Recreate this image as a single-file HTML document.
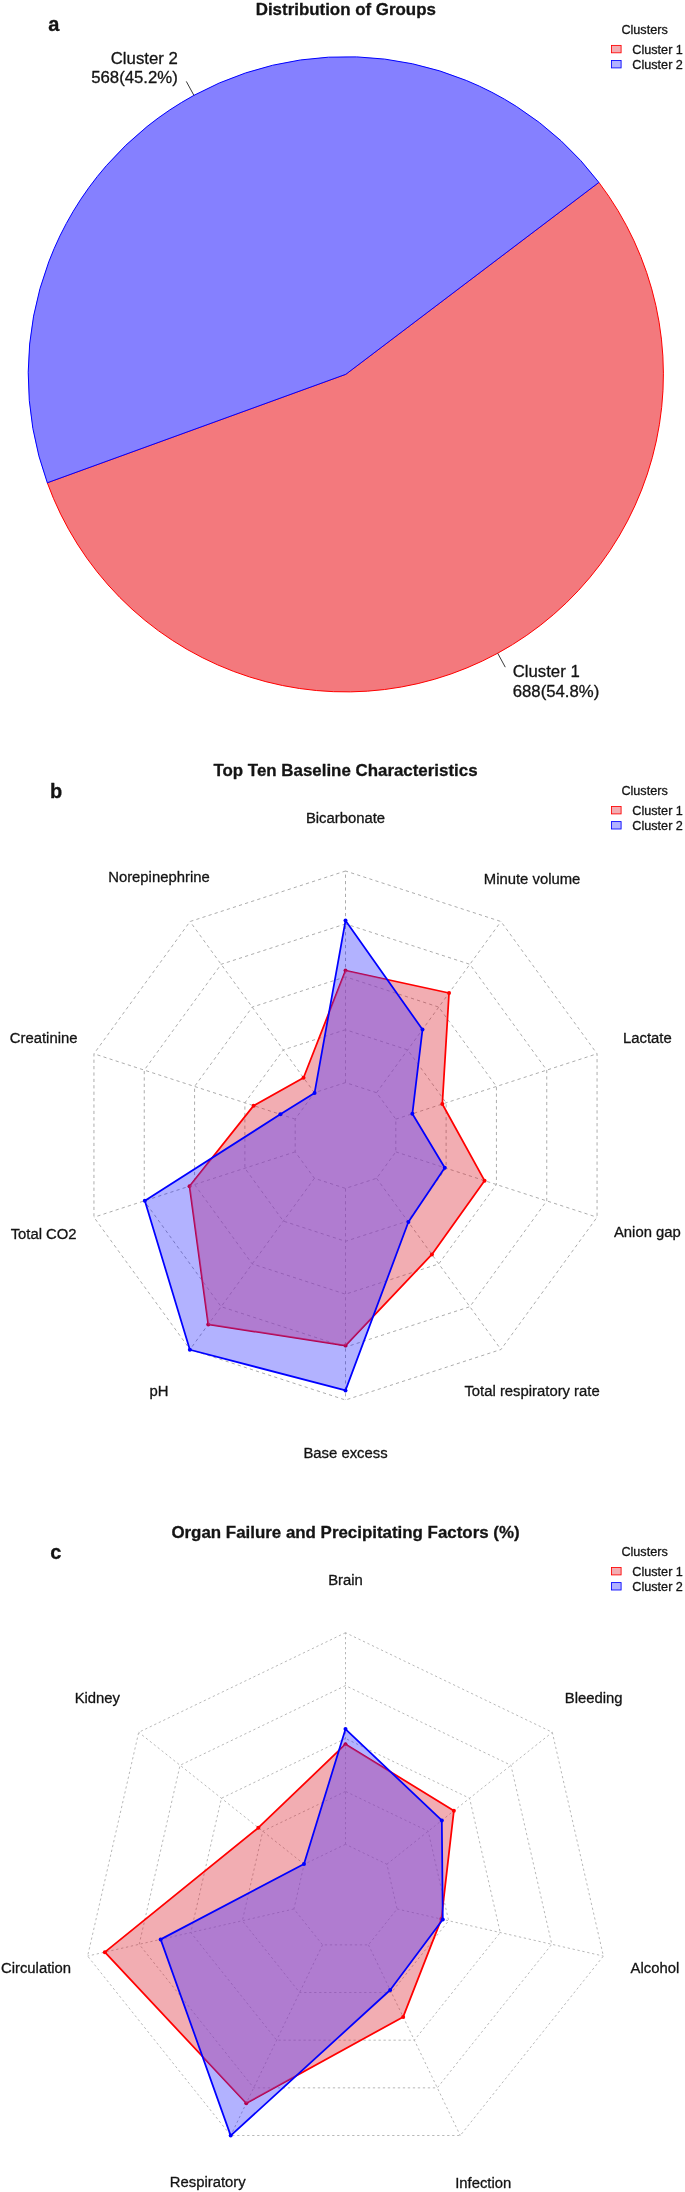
<!DOCTYPE html>
<html><head><meta charset="utf-8"><title>Figure</title>
<style>
html,body{margin:0;padding:0;background:#fff;}
body{width:685px;height:2192px;overflow:hidden;}
svg{display:block;font-family:"Liberation Sans", sans-serif;will-change:transform;}
text{stroke:#141414;stroke-width:0.3px;stroke-linejoin:round;}
</style></head><body>
<svg width="685" height="2192" viewBox="0 0 685 2192">
<rect width="685" height="2192" fill="#ffffff"/>
<path d="M345.8,374.3 L47.30,482.77 A317.6,317.6 0 1 0 598.88,182.41 Z" fill="#f3797d" stroke="#ff0000" stroke-width="1.0" stroke-linejoin="round"/>
<path d="M345.8,374.3 L598.88,182.41 A317.6,317.6 0 0 0 47.30,482.77 Z" fill="#8580ff" stroke="#0000ff" stroke-width="1.0" stroke-linejoin="round"/>
<line x1="193.91" y1="95.37" x2="186.32" y2="81.43" stroke="#222" stroke-width="0.9"/>
<line x1="497.69" y1="653.23" x2="505.28" y2="667.17" stroke="#222" stroke-width="0.9"/>
<text x="345.80" y="14.60" font-size="16.9" text-anchor="middle" font-weight="bold" fill="#141414">Distribution of Groups</text>
<text x="48.30" y="31.00" font-size="20" text-anchor="start" font-weight="bold" fill="#141414">a</text>
<text x="177.80" y="63.70" font-size="16.75" text-anchor="end" font-weight="normal" fill="#141414">Cluster 2</text>
<text x="177.80" y="83.40" font-size="16.75" text-anchor="end" font-weight="normal" fill="#141414">568(45.2%)</text>
<text x="512.70" y="677.10" font-size="16.75" text-anchor="start" font-weight="normal" fill="#141414">Cluster 1</text>
<text x="512.70" y="697.10" font-size="16.75" text-anchor="start" font-weight="normal" fill="#141414">688(54.8%)</text>
<text x="644.60" y="33.90" font-size="12.65" text-anchor="middle" font-weight="normal" fill="#141414">Clusters</text>
<text x="632.30" y="53.90" font-size="12.65" text-anchor="start" font-weight="normal" fill="#141414">Cluster 1</text>
<text x="632.30" y="68.80" font-size="12.65" text-anchor="start" font-weight="normal" fill="#141414">Cluster 2</text>
<rect x="611.5" y="45.40" width="9.6" height="7.4" fill="rgba(219,27,41,0.36)" stroke="#ff0000" stroke-width="0.85"/>
<rect x="611.5" y="60.50" width="9.6" height="7.4" fill="rgba(0,0,255,0.30)" stroke="#0000ff" stroke-width="0.85"/>
<polygon points="345.50,1082.60 314.41,1092.70 295.19,1119.15 295.19,1151.85 314.41,1178.30 345.50,1188.40 376.59,1178.30 395.81,1151.85 395.81,1119.15 376.59,1092.70" fill="none" stroke="#a8a8a8" stroke-width="0.95" stroke-dasharray="3.2 3.2"/>
<polygon points="345.50,1029.70 283.31,1049.91 244.88,1102.81 244.88,1168.19 283.31,1221.09 345.50,1241.30 407.69,1221.09 446.12,1168.19 446.12,1102.81 407.69,1049.91" fill="none" stroke="#a8a8a8" stroke-width="0.95" stroke-dasharray="3.2 3.2"/>
<polygon points="345.50,976.80 252.22,1007.11 194.57,1086.46 194.57,1184.54 252.22,1263.89 345.50,1294.20 438.78,1263.89 496.43,1184.54 496.43,1086.46 438.78,1007.11" fill="none" stroke="#a8a8a8" stroke-width="0.95" stroke-dasharray="3.2 3.2"/>
<polygon points="345.50,923.90 221.12,964.31 144.26,1070.11 144.26,1200.89 221.12,1306.69 345.50,1347.10 469.88,1306.69 546.74,1200.89 546.74,1070.11 469.88,964.31" fill="none" stroke="#a8a8a8" stroke-width="0.95" stroke-dasharray="3.2 3.2"/>
<polygon points="345.50,871.00 190.03,921.52 93.95,1053.77 93.95,1217.23 190.03,1349.48 345.50,1400.00 500.97,1349.48 597.05,1217.23 597.05,1053.77 500.97,921.52" fill="none" stroke="#a8a8a8" stroke-width="0.95" stroke-dasharray="3.2 3.2"/>
<line x1="345.50" y1="1082.60" x2="345.50" y2="871.00" stroke="#a8a8a8" stroke-width="0.95" stroke-dasharray="3.2 3.2"/>
<line x1="314.41" y1="1092.70" x2="190.03" y2="921.52" stroke="#a8a8a8" stroke-width="0.95" stroke-dasharray="3.2 3.2"/>
<line x1="295.19" y1="1119.15" x2="93.95" y2="1053.77" stroke="#a8a8a8" stroke-width="0.95" stroke-dasharray="3.2 3.2"/>
<line x1="295.19" y1="1151.85" x2="93.95" y2="1217.23" stroke="#a8a8a8" stroke-width="0.95" stroke-dasharray="3.2 3.2"/>
<line x1="314.41" y1="1178.30" x2="190.03" y2="1349.48" stroke="#a8a8a8" stroke-width="0.95" stroke-dasharray="3.2 3.2"/>
<line x1="345.50" y1="1188.40" x2="345.50" y2="1400.00" stroke="#a8a8a8" stroke-width="0.95" stroke-dasharray="3.2 3.2"/>
<line x1="376.59" y1="1178.30" x2="500.97" y2="1349.48" stroke="#a8a8a8" stroke-width="0.95" stroke-dasharray="3.2 3.2"/>
<line x1="395.81" y1="1151.85" x2="597.05" y2="1217.23" stroke="#a8a8a8" stroke-width="0.95" stroke-dasharray="3.2 3.2"/>
<line x1="395.81" y1="1119.15" x2="597.05" y2="1053.77" stroke="#a8a8a8" stroke-width="0.95" stroke-dasharray="3.2 3.2"/>
<line x1="376.59" y1="1092.70" x2="500.97" y2="921.52" stroke="#a8a8a8" stroke-width="0.95" stroke-dasharray="3.2 3.2"/>
<clipPath id="cp1"><polygon points="345.50,970.50 303.53,1077.74 253.63,1105.65 189.53,1186.18 208.25,1324.41 345.50,1345.60 431.90,1254.43 484.54,1180.68 442.32,1104.04 449.04,992.99"/></clipPath>
<polygon points="345.50,970.50 303.53,1077.74 253.63,1105.65 189.53,1186.18 208.25,1324.41 345.50,1345.60 431.90,1254.43 484.54,1180.68 442.32,1104.04 449.04,992.99" fill="rgba(219,27,41,0.36)" stroke="#ff0000" stroke-width="1.75" stroke-linejoin="round"/>
<circle cx="345.50" cy="970.50" r="2.0" fill="#ff0000"/>
<circle cx="303.53" cy="1077.74" r="2.0" fill="#ff0000"/>
<circle cx="253.63" cy="1105.65" r="2.0" fill="#ff0000"/>
<circle cx="189.53" cy="1186.18" r="2.0" fill="#ff0000"/>
<circle cx="208.25" cy="1324.41" r="2.0" fill="#ff0000"/>
<circle cx="345.50" cy="1345.60" r="2.0" fill="#ff0000"/>
<circle cx="431.90" cy="1254.43" r="2.0" fill="#ff0000"/>
<circle cx="484.54" cy="1180.68" r="2.0" fill="#ff0000"/>
<circle cx="442.32" cy="1104.04" r="2.0" fill="#ff0000"/>
<circle cx="449.04" cy="992.99" r="2.0" fill="#ff0000"/>
<polygon points="345.50,920.60 314.58,1092.95 280.35,1114.33 144.83,1200.70 189.85,1349.73 345.50,1390.40 408.39,1222.06 444.79,1167.76 412.36,1113.78 422.50,1029.52" fill="rgba(0,0,255,0.30)"/>
<polygon points="345.50,920.60 314.58,1092.95 280.35,1114.33 144.83,1200.70 189.85,1349.73 345.50,1390.40 408.39,1222.06 444.79,1167.76 412.36,1113.78 422.50,1029.52" fill="rgba(200,137,233,0.25)" clip-path="url(#cp1)"/>
<polygon points="345.50,920.60 314.58,1092.95 280.35,1114.33 144.83,1200.70 189.85,1349.73 345.50,1390.40 408.39,1222.06 444.79,1167.76 412.36,1113.78 422.50,1029.52" fill="none" stroke="#0000ff" stroke-width="1.75" stroke-linejoin="round"/>
<circle cx="345.50" cy="920.60" r="2.0" fill="#0000ff"/>
<circle cx="314.58" cy="1092.95" r="2.0" fill="#0000ff"/>
<circle cx="280.35" cy="1114.33" r="2.0" fill="#0000ff"/>
<circle cx="144.83" cy="1200.70" r="2.0" fill="#0000ff"/>
<circle cx="189.85" cy="1349.73" r="2.0" fill="#0000ff"/>
<circle cx="345.50" cy="1390.40" r="2.0" fill="#0000ff"/>
<circle cx="408.39" cy="1222.06" r="2.0" fill="#0000ff"/>
<circle cx="444.79" cy="1167.76" r="2.0" fill="#0000ff"/>
<circle cx="412.36" cy="1113.78" r="2.0" fill="#0000ff"/>
<circle cx="422.50" cy="1029.52" r="2.0" fill="#0000ff"/>
<text x="345.50" y="823.42" font-size="14.85" text-anchor="middle" font-weight="normal" fill="#141414">Bicarbonate</text>
<text x="158.94" y="882.48" font-size="14.85" text-anchor="middle" font-weight="normal" fill="#141414">Norepinephrine</text>
<text x="43.63" y="1042.73" font-size="14.85" text-anchor="middle" font-weight="normal" fill="#141414">Creatinine</text>
<text x="43.63" y="1238.90" font-size="14.85" text-anchor="middle" font-weight="normal" fill="#141414">Total CO2</text>
<text x="158.94" y="1396.04" font-size="14.85" text-anchor="middle" font-weight="normal" fill="#141414">pH</text>
<text x="345.50" y="1458.22" font-size="14.85" text-anchor="middle" font-weight="normal" fill="#141414">Base excess</text>
<text x="532.06" y="1396.04" font-size="14.85" text-anchor="middle" font-weight="normal" fill="#141414">Total respiratory rate</text>
<text x="647.37" y="1237.34" font-size="14.85" text-anchor="middle" font-weight="normal" fill="#141414">Anion gap</text>
<text x="647.37" y="1042.73" font-size="14.85" text-anchor="middle" font-weight="normal" fill="#141414">Lactate</text>
<text x="532.06" y="884.03" font-size="14.85" text-anchor="middle" font-weight="normal" fill="#141414">Minute volume</text>
<text x="345.50" y="776.00" font-size="16.9" text-anchor="middle" font-weight="bold" fill="#141414">Top Ten Baseline Characteristics</text>
<text x="49.90" y="798.00" font-size="20" text-anchor="start" font-weight="bold" fill="#141414">b</text>
<text x="644.60" y="795.00" font-size="12.65" text-anchor="middle" font-weight="normal" fill="#141414">Clusters</text>
<text x="632.30" y="815.00" font-size="12.65" text-anchor="start" font-weight="normal" fill="#141414">Cluster 1</text>
<text x="632.30" y="829.90" font-size="12.65" text-anchor="start" font-weight="normal" fill="#141414">Cluster 2</text>
<rect x="611.5" y="806.50" width="9.6" height="7.4" fill="rgba(219,27,41,0.36)" stroke="#ff0000" stroke-width="0.85"/>
<rect x="611.5" y="821.60" width="9.6" height="7.4" fill="rgba(0,0,255,0.30)" stroke="#0000ff" stroke-width="0.85"/>
<polygon points="345.50,1844.30 304.14,1864.22 293.93,1908.97 322.55,1944.86 368.45,1944.86 397.07,1908.97 386.86,1864.22" fill="none" stroke="#b0b0b0" stroke-width="0.9" stroke-dasharray="2.3 2.7"/>
<polygon points="345.50,1791.40 262.78,1831.23 242.35,1920.74 299.60,1992.52 391.40,1992.52 448.65,1920.74 428.22,1831.23" fill="none" stroke="#b0b0b0" stroke-width="0.9" stroke-dasharray="2.3 2.7"/>
<polygon points="345.50,1738.50 221.42,1798.25 190.78,1932.51 276.64,2040.18 414.36,2040.18 500.22,1932.51 469.58,1798.25" fill="none" stroke="#b0b0b0" stroke-width="0.9" stroke-dasharray="2.3 2.7"/>
<polygon points="345.50,1685.60 180.06,1765.27 139.21,1944.29 253.69,2087.85 437.31,2087.85 551.79,1944.29 510.94,1765.27" fill="none" stroke="#b0b0b0" stroke-width="0.9" stroke-dasharray="2.3 2.7"/>
<polygon points="345.50,1632.70 138.71,1732.29 87.63,1956.06 230.74,2135.51 460.26,2135.51 603.37,1956.06 552.29,1732.29" fill="none" stroke="#b0b0b0" stroke-width="0.9" stroke-dasharray="2.3 2.7"/>
<line x1="345.50" y1="1844.30" x2="345.50" y2="1632.70" stroke="#b0b0b0" stroke-width="0.9" stroke-dasharray="2.3 2.7"/>
<line x1="304.14" y1="1864.22" x2="138.71" y2="1732.29" stroke="#b0b0b0" stroke-width="0.9" stroke-dasharray="2.3 2.7"/>
<line x1="293.93" y1="1908.97" x2="87.63" y2="1956.06" stroke="#b0b0b0" stroke-width="0.9" stroke-dasharray="2.3 2.7"/>
<line x1="322.55" y1="1944.86" x2="230.74" y2="2135.51" stroke="#b0b0b0" stroke-width="0.9" stroke-dasharray="2.3 2.7"/>
<line x1="368.45" y1="1944.86" x2="460.26" y2="2135.51" stroke="#b0b0b0" stroke-width="0.9" stroke-dasharray="2.3 2.7"/>
<line x1="397.07" y1="1908.97" x2="603.37" y2="1956.06" stroke="#b0b0b0" stroke-width="0.9" stroke-dasharray="2.3 2.7"/>
<line x1="386.86" y1="1864.22" x2="552.29" y2="1732.29" stroke="#b0b0b0" stroke-width="0.9" stroke-dasharray="2.3 2.7"/>
<clipPath id="cp2"><polygon points="345.50,1744.15 258.40,1827.74 104.84,1952.13 246.27,2103.25 403.16,2016.94 441.34,1919.07 453.86,1810.78"/></clipPath>
<polygon points="345.50,1744.15 258.40,1827.74 104.84,1952.13 246.27,2103.25 403.16,2016.94 441.34,1919.07 453.86,1810.78" fill="rgba(219,27,41,0.36)" stroke="#ff0000" stroke-width="1.75" stroke-linejoin="round"/>
<circle cx="345.50" cy="1744.15" r="2.0" fill="#ff0000"/>
<circle cx="258.40" cy="1827.74" r="2.0" fill="#ff0000"/>
<circle cx="104.84" cy="1952.13" r="2.0" fill="#ff0000"/>
<circle cx="246.27" cy="2103.25" r="2.0" fill="#ff0000"/>
<circle cx="403.16" cy="2016.94" r="2.0" fill="#ff0000"/>
<circle cx="441.34" cy="1919.07" r="2.0" fill="#ff0000"/>
<circle cx="453.86" cy="1810.78" r="2.0" fill="#ff0000"/>
<polygon points="345.50,1729.10 303.98,1864.09 160.65,1939.39 230.69,2135.60 390.19,1990.00 442.80,1919.41 441.82,1820.39" fill="rgba(0,0,255,0.30)"/>
<polygon points="345.50,1729.10 303.98,1864.09 160.65,1939.39 230.69,2135.60 390.19,1990.00 442.80,1919.41 441.82,1820.39" fill="rgba(200,137,233,0.25)" clip-path="url(#cp2)"/>
<polygon points="345.50,1729.10 303.98,1864.09 160.65,1939.39 230.69,2135.60 390.19,1990.00 442.80,1919.41 441.82,1820.39" fill="none" stroke="#0000ff" stroke-width="1.75" stroke-linejoin="round"/>
<circle cx="345.50" cy="1729.10" r="2.0" fill="#0000ff"/>
<circle cx="303.98" cy="1864.09" r="2.0" fill="#0000ff"/>
<circle cx="160.65" cy="1939.39" r="2.0" fill="#0000ff"/>
<circle cx="230.69" cy="2135.60" r="2.0" fill="#0000ff"/>
<circle cx="390.19" cy="1990.00" r="2.0" fill="#0000ff"/>
<circle cx="442.80" cy="1919.41" r="2.0" fill="#0000ff"/>
<circle cx="441.82" cy="1820.39" r="2.0" fill="#0000ff"/>
<text x="345.50" y="1585.12" font-size="14.85" text-anchor="middle" font-weight="normal" fill="#141414">Brain</text>
<text x="97.35" y="1703.06" font-size="14.85" text-anchor="middle" font-weight="normal" fill="#141414">Kidney</text>
<text x="36.06" y="1973.14" font-size="14.85" text-anchor="middle" font-weight="normal" fill="#141414">Circulation</text>
<text x="207.79" y="2186.92" font-size="14.85" text-anchor="middle" font-weight="normal" fill="#141414">Respiratory</text>
<text x="483.21" y="2188.48" font-size="14.85" text-anchor="middle" font-weight="normal" fill="#141414">Infection</text>
<text x="654.94" y="1973.14" font-size="14.85" text-anchor="middle" font-weight="normal" fill="#141414">Alcohol</text>
<text x="593.65" y="1703.06" font-size="14.85" text-anchor="middle" font-weight="normal" fill="#141414">Bleeding</text>
<text x="345.50" y="1537.70" font-size="16.9" text-anchor="middle" font-weight="bold" fill="#141414">Organ Failure and Precipitating Factors (%)</text>
<text x="50.20" y="1559.20" font-size="20" text-anchor="start" font-weight="bold" fill="#141414">c</text>
<text x="644.60" y="1556.00" font-size="12.65" text-anchor="middle" font-weight="normal" fill="#141414">Clusters</text>
<text x="632.30" y="1576.00" font-size="12.65" text-anchor="start" font-weight="normal" fill="#141414">Cluster 1</text>
<text x="632.30" y="1590.90" font-size="12.65" text-anchor="start" font-weight="normal" fill="#141414">Cluster 2</text>
<rect x="611.5" y="1567.50" width="9.6" height="7.4" fill="rgba(219,27,41,0.36)" stroke="#ff0000" stroke-width="0.85"/>
<rect x="611.5" y="1582.60" width="9.6" height="7.4" fill="rgba(0,0,255,0.30)" stroke="#0000ff" stroke-width="0.85"/>
</svg>
</body></html>
